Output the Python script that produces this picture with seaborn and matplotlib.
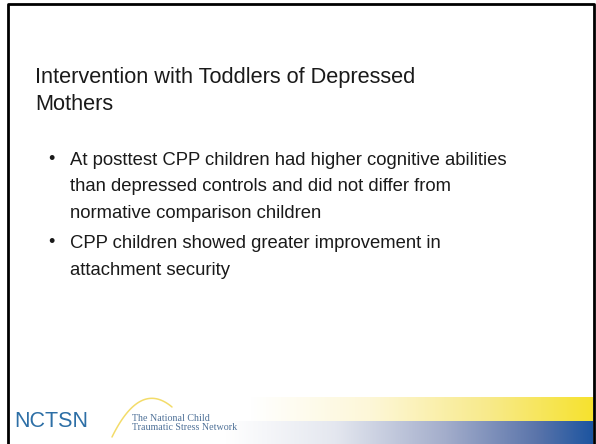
import numpy as np
import matplotlib
matplotlib.use("Agg")
import matplotlib.pyplot as plt
from matplotlib.colors import LinearSegmentedColormap
import seaborn as sns

sns.set_theme(style="white")
plt.rcParams['font.family'] = ['Liberation Sans', 'DejaVu Sans']

title_lines = ["Intervention with Toddlers of Depressed", "Mothers"]
bullet1 = ["At posttest CPP children had higher cognitive abilities",
           "than depressed controls and did not differ from",
           "normative comparison children"]
bullet2 = ["CPP children showed greater improvement in",
           "attachment security"]
logo_word = "NCTSN"
logo_tag = ["The National Child", "Traumatic Stress Network"]

W, H = 596, 444
fig = plt.figure(figsize=(W / 100, H / 100), dpi=100)
ax = fig.add_axes([0, 0, 1, 1])
ax.axis("off")
fig.patch.set_facecolor("white")

# gradient bands
grad = np.linspace(0, 1, 256).reshape(1, -1)
ycmap = LinearSegmentedColormap.from_list("y", [(0, "#ffffff"), (0.35, "#fdf7d8"), (0.7, "#f8ea8a"), (1, "#f6e22e")])
bcmap = LinearSegmentedColormap.from_list("b", [(0, "#ffffff"), (0.3, "#e4e7ef"), (0.6, "#a3adcb"), (0.85, "#5a74aa"), (1, "#1d55a0")])
ax.imshow(grad, cmap=ycmap, aspect="auto", extent=[250, 593, 421, 397], zorder=1)
ax.imshow(grad, cmap=bcmap, aspect="auto", extent=[225, 593, 444, 421], zorder=1)
ax.set_xlim(0, W)
ax.set_ylim(H, 0)

# border
ax.plot([8, 8, 594, 594], [H, 4, 4, H], color="black", lw=2.0, solid_capstyle="butt", zorder=3)

# title
tx = 35
for i, line in enumerate(title_lines):
    ax.text(tx, 78 + i * 26, line, fontsize=15.7, color="#1a1a1a", va="center", ha="left")

# bullets
bx, txx = 48, 70
y = 160
for block in (bullet1, bullet2):
    ax.text(bx, y - 1, "•", fontsize=13, color="#1a1a1a", va="center", ha="left")
    for line in block:
        ax.text(txx, y, line, fontsize=13.3, color="#1a1a1a", va="center", ha="left")
        y += 26.5
    y += 4

# logo
ax.text(14, 421, logo_word, fontsize=15.5, color="#2d6fa6", va="center", ha="left")
ax.text(132, 418, logo_tag[0], fontsize=7.2, color="#4f7198", va="center", ha="left", family="Liberation Serif")
ax.text(132, 427, logo_tag[1], fontsize=7.2, color="#4f7198", va="center", ha="left", family="Liberation Serif")
t = np.linspace(0, 1, 60)
p0, p1, p2 = np.array([112, 437]), np.array([140, 380]), np.array([172, 407])
curve = ((1 - t) ** 2)[:, None] * p0 + (2 * (1 - t) * t)[:, None] * p1 + (t ** 2)[:, None] * p2
ax.plot(curve[:, 0], curve[:, 1], color="#f3dc6a", lw=1.1)

fig.savefig("out.png", dpi=100, facecolor="white")
